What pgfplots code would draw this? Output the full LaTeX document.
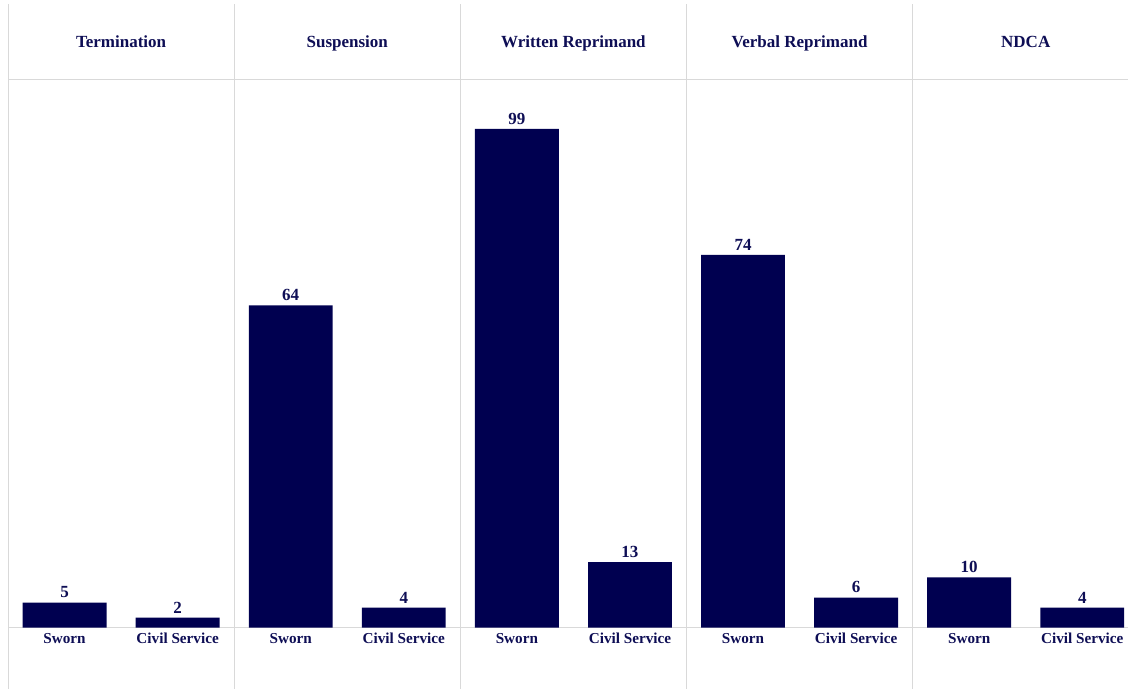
\documentclass[border=0pt]{standalone}
\usepackage{pgfplots}
\pgfplotsset{compat=1.18}
\usepackage{fontspec}
\setmainfont{Liberation Serif}
\definecolor{navy}{HTML}{000050}
\definecolor{txt}{HTML}{0E0E55}
\definecolor{grid}{HTML}{D9D9D9}
\begin{document}
\begin{tikzpicture}
\begin{axis}[
  scale only axis, width=564pt, height=344.5pt,
  xmin=-0.0354, xmax=4.950, ymin=-12.1, ymax=124.6,
  hide axis, clip=false,
  ybar, bar width=0.371, bar shift=0pt,
  /pgf/number format/assume math mode=true,
]
\fill[white] (rel axis cs:0,0) rectangle (rel axis cs:1,1);
\draw[grid, line width=0.5pt] (axis cs:0,123.8) -- (axis cs:0,-12.1);
\draw[grid, line width=0.5pt] (axis cs:1,123.8) -- (axis cs:1,-12.1);
\draw[grid, line width=0.5pt] (axis cs:2,123.8) -- (axis cs:2,-12.1);
\draw[grid, line width=0.5pt] (axis cs:3,123.8) -- (axis cs:3,-12.1);
\draw[grid, line width=0.5pt] (axis cs:4,123.8) -- (axis cs:4,-12.1);
\draw[grid, line width=0.5pt] (axis cs:0,108.9) -- (axis cs:4.95,108.9);
\draw[grid, line width=0.5pt] (axis cs:0,0) -- (axis cs:4.95,0);
\addplot[fill=navy, draw=none,
  nodes near coords,
  every node near coord/.append style={font=\bfseries\fontsize{8.5}{10}\selectfont, text=txt, inner sep=2pt}]
  coordinates {(0.25,5) (0.75,2) (1.25,64) (1.75,4) (2.25,99) (2.75,13) (3.25,74) (3.75,6) (4.25,10) (4.75,4)};
\tikzset{ttl/.style={font=\bfseries\fontsize{8.5}{10}\selectfont, text=txt, anchor=base, inner sep=0pt}, cat/.style={font=\bfseries\fontsize{7.6}{9}\selectfont, text=txt, anchor=base, inner sep=0pt}}
\node[ttl] at (axis cs:0.5,115.1) {Termination};
\node[ttl] at (axis cs:1.5,115.1) {Suspension};
\node[ttl] at (axis cs:2.5,115.1) {Written Reprimand};
\node[ttl] at (axis cs:3.5,115.1) {Verbal Reprimand};
\node[ttl] at (axis cs:4.5,115.1) {NDCA};
\node[cat] at (axis cs:0.25,-3.2) {Sworn};
\node[cat] at (axis cs:0.75,-3.2) {Civil Service};
\node[cat] at (axis cs:1.25,-3.2) {Sworn};
\node[cat] at (axis cs:1.75,-3.2) {Civil Service};
\node[cat] at (axis cs:2.25,-3.2) {Sworn};
\node[cat] at (axis cs:2.75,-3.2) {Civil Service};
\node[cat] at (axis cs:3.25,-3.2) {Sworn};
\node[cat] at (axis cs:3.75,-3.2) {Civil Service};
\node[cat] at (axis cs:4.25,-3.2) {Sworn};
\node[cat] at (axis cs:4.75,-3.2) {Civil Service};
\end{axis}
\end{tikzpicture}
\end{document}
